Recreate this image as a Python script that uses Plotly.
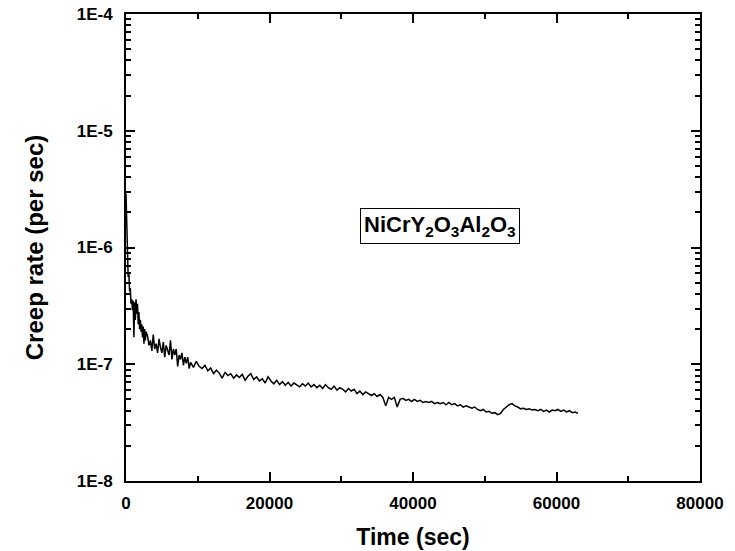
import plotly.graph_objects as go

time_early = [0, 60, 120, 180, 240, 300, 400, 500, 600, 700, 800, 900, 1000, 1100, 1200,
              1300, 1400, 1500, 1600, 1700, 1800, 1900, 2000, 2100, 2200, 2300, 2400, 2500,
              2600, 2700, 2800]
rate_early = [290e-8, 180e-8, 128e-8, 90e-8, 70e-8, 56e-8, 60e-8, 42e-8, 45e-8, 33e-8, 36e-8,
              29e-8, 35e-8, 17e-8, 34e-8, 24e-8, 36e-8, 27e-8, 33e-8, 22e-8, 28e-8, 20e-8,
              24e-8, 19e-8, 22e-8, 17e-8, 21e-8, 15e-8, 20e-8, 16e-8, 19e-8]

time_late = [3000, 3200, 3400, 3600, 3800, 4000, 4200, 4400, 4600, 4800, 5000, 5200, 5400, 5600,
             5800, 6000, 6200, 6400, 6600, 6800, 7000, 7200, 7400, 7600, 7800, 8000, 8200, 8400,
             8600, 8800, 9000, 9400, 9800, 10200, 10600, 11000, 11400, 11800, 12200, 12600, 13000,
             13400, 13800, 14200, 14600, 15000, 15400, 15800, 16200, 16600, 17000, 17400, 17800,
             18200, 18600, 19000, 19400, 19800, 20200, 20600, 21000, 21400, 21800, 22200, 22600,
             23000, 23400, 23800, 24200, 24600, 25000, 25400, 25800, 26200, 26600, 27000, 27400,
             27800, 28200, 28600, 29000, 29400, 29800, 30200, 30600, 31000, 31400, 31800, 32200,
             32600, 33000, 33400, 33800, 34200, 34600, 35000, 35400, 35800, 36200, 36600, 37000,
             37400, 37800, 38200, 38600, 39000, 39400, 39800, 40200, 40600, 41000, 41400, 41800,
             42200, 42600, 43000, 43400, 43800, 44200, 44600, 45000, 45400, 45800, 46200, 46600,
             47000, 47400, 47800, 48200, 48600, 49000, 49400, 49800, 50200, 50600, 51000, 51400,
             51800, 52200, 52600, 53000, 53400, 53800, 54200, 54600, 55000, 55400, 55800, 56200,
             56600, 57000, 57400, 57800, 58200, 58600, 59000, 59400, 59800, 60200, 60600, 61000,
             61400, 61800, 62200, 62600, 63000]
rate_late = [17.5e-8, 14.5e-8, 16e-8, 13e-8, 18e-8, 13.5e-8, 15e-8, 12.5e-8, 16.5e-8, 14e-8,
             12.5e-8, 15.5e-8, 11.5e-8, 14.5e-8, 13e-8, 12e-8, 16e-8, 11e-8, 13.5e-8, 12e-8,
             13.5e-8, 9.6e-8, 12e-8, 11e-8, 12.5e-8, 9.8e-8, 11.5e-8, 10.2e-8, 11.5e-8, 9.2e-8,
             10.4e-8, 9.4e-8, 10.6e-8, 9.6e-8, 9.2e-8,
             9.8e-8, 8.8e-8, 9.3e-8, 8.3e-8, 8.9e-8, 8.4e-8, 7.6e-8, 8.5e-8, 8.0e-8, 8.3e-8,
             7.6e-8, 8.1e-8, 7.7e-8, 8.2e-8, 7.3e-8, 7.9e-8, 8.3e-8, 7.4e-8, 7.8e-8, 7.2e-8,
             7.5e-8, 6.9e-8, 7.8e-8, 7.2e-8, 6.8e-8, 7.3e-8, 6.7e-8, 7.1e-8, 6.6e-8, 7.0e-8,
             6.5e-8, 6.9e-8, 6.7e-8, 6.4e-8, 6.8e-8, 6.5e-8, 6.9e-8, 6.4e-8, 6.7e-8, 6.3e-8,
             6.6e-8, 6.2e-8, 6.7e-8, 6.3e-8, 6.1e-8, 6.5e-8, 6.0e-8, 6.3e-8, 6.1e-8, 5.8e-8,
             6.2e-8, 5.9e-8, 6.1e-8, 5.6e-8, 5.9e-8, 5.5e-8, 5.8e-8, 5.6e-8, 5.4e-8, 5.6e-8,
             5.3e-8, 5.5e-8, 5.2e-8, 4.4e-8, 5.2e-8, 5.0e-8, 5.2e-8, 4.3e-8, 5.0e-8, 5.1e-8,
             4.9e-8, 5.0e-8, 4.8e-8, 5.0e-8, 4.8e-8, 4.9e-8, 4.7e-8, 4.8e-8, 4.7e-8, 4.8e-8,
             4.6e-8, 4.7e-8, 4.6e-8, 4.7e-8, 4.5e-8, 4.7e-8, 4.5e-8, 4.6e-8, 4.4e-8, 4.5e-8,
             4.3e-8, 4.4e-8, 4.3e-8, 4.2e-8, 4.3e-8, 4.1e-8, 4.0e-8, 4.1e-8, 3.9e-8, 3.95e-8,
             3.8e-8, 3.85e-8, 3.7e-8, 3.8e-8, 4.1e-8, 4.3e-8, 4.5e-8, 4.6e-8, 4.4e-8, 4.3e-8,
             4.15e-8, 4.2e-8, 4.1e-8, 4.15e-8, 4.05e-8, 4.1e-8, 4.0e-8, 4.1e-8, 3.95e-8, 4.05e-8,
             3.9e-8, 4.05e-8, 4.0e-8, 4.1e-8, 3.95e-8, 4.05e-8, 3.9e-8, 4.0e-8, 3.85e-8, 3.9e-8,
             3.8e-8]

x_ticks = [0, 20000, 40000, 60000, 80000]
y_ticks = [1e-8, 1e-7, 1e-6, 1e-5, 1e-4]
y_tick_labels = ["1E-8", "1E-7", "1E-6", "1E-5", "1E-4"]
label_text = "NiCrY<sub>2</sub>O<sub>3</sub>Al<sub>2</sub>O<sub>3</sub>"

time = time_early + time_late
rate = rate_early + rate_late

FONT = "Liberation Sans, Arial, sans-serif"

fig = go.Figure()
fig.add_trace(go.Scatter(x=time, y=rate, mode="lines",
                         line=dict(color="black", width=1.5), showlegend=False))

fig.update_layout(
    width=735, height=551,
    margin=dict(l=126, r=35, t=14, b=70),
    paper_bgcolor="white", plot_bgcolor="white",
    font=dict(family=FONT, color="black"),
)
fig.update_xaxes(
    range=[0, 80000], tickvals=x_ticks, ticktext=[str(v) for v in x_ticks],
    ticks="inside", ticklen=9, tickwidth=1.5, tickcolor="black",
    minor=dict(ticks="inside", dtick=10000, ticklen=5, tickwidth=1.5, tickcolor="black"),
    showline=True, linewidth=2, linecolor="black", mirror="ticks",
    showgrid=False, zeroline=False, ticklabelstandoff=6, automargin=False,
    tickfont=dict(family=FONT, size=17, color="black", weight="bold"),
    title=dict(text="<b>Time (sec)</b>", font=dict(family=FONT, size=23, color="black"), standoff=16),
)
fig.update_yaxes(
    type="log", range=[-8, -4], tickvals=y_ticks, ticktext=y_tick_labels,
    ticks="inside", ticklen=9, tickwidth=1.5, tickcolor="black",
    minor=dict(ticks="inside", dtick="D1", ticklen=5, tickwidth=1.5, tickcolor="black"),
    showline=True, linewidth=2, linecolor="black", mirror="ticks",
    showgrid=False, zeroline=False, ticklabelstandoff=8, automargin=False,
    tickfont=dict(family=FONT, size=17, color="black", weight="bold"),
    title=dict(text="<b>Creep rate (per sec)</b>", font=dict(family=FONT, size=24, color="black"), standoff=26),
)
fig.add_annotation(
    xref="paper", yref="paper", x=0.547, y=0.547,
    text="<b>" + label_text + "</b>", showarrow=False,
    font=dict(family=FONT, size=22, color="black"),
    bordercolor="black", borderwidth=1, borderpad=3, bgcolor="white",
)

fig.write_html("out.html")
